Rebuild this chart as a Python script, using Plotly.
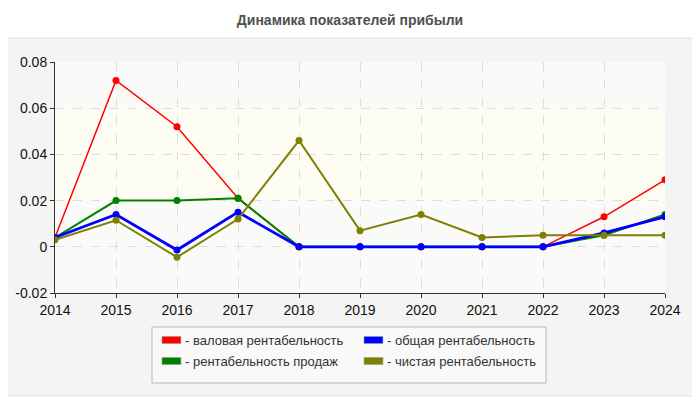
import plotly.graph_objects as go

# --- data ---
years = [2014, 2015, 2016, 2017, 2018, 2019, 2020, 2021, 2022, 2023, 2024]

gross_margin = [0.004, 0.072, 0.052, 0.021, 0.0, 0.0, 0.0, 0.0, 0.0, 0.013, 0.029]
sales_margin = [0.004, 0.020, 0.020, 0.021, 0.0, 0.0, 0.0, 0.0, 0.0, 0.005, 0.014]
total_margin = [0.004, 0.014, -0.0014, 0.015, 0.0, 0.0, 0.0, 0.0, 0.0, 0.006, 0.013]
net_margin = [0.003, 0.0115, -0.0045, 0.012, 0.046, 0.007, 0.014, 0.004, 0.005, 0.005, 0.005]

names = {
    "gross": "- валовая рентабельность",
    "sales": "- рентабельность продаж",
    "total": "- общая рентабельность",
    "net": "- чистая рентабельность",
}
colors = {"gross": "#ff0000", "sales": "#008000", "total": "#0000ff", "net": "#808000"}
y_ticks = [-0.02, 0, 0.02, 0.04, 0.06, 0.08]
y_tick_text = ["-0.02", "0", "0.02", "0.04", "0.06", "0.08"]

fig = go.Figure()

# draw order: red, green, blue, olive (olive on top)
series = [
    ("gross", gross_margin, 1.5),
    ("sales", sales_margin, 2),
    ("total", total_margin, 2.8),
    ("net", net_margin, 2),
]
for key, vals, w in series:
    fig.add_trace(go.Scatter(
        x=years, y=vals, mode="lines+markers", name=names[key],
        line=dict(color=colors[key], width=w),
        marker=dict(color=colors[key], size=7),
        showlegend=False, hoverinfo="x+y",
    ))

# outer panel and light band
fig.add_shape(type="rect", xref="paper", yref="paper",
              x0=-0.087, x1=1.0525, y0=-0.446, y1=1.104,
              fillcolor="#f4f4f4", line=dict(color="#e2e2e2", width=1),
              layer="below")
fig.add_shape(type="rect", xref="paper", yref="paper",
              x0=0, x1=1, y0=0, y1=1,
              fillcolor="#fafaf9", line=dict(width=0), layer="below")
fig.add_shape(type="rect", xref="paper", yref="y",
              x0=0, x1=1, y0=0.02, y1=0.06,
              fillcolor="#fdfdf4", line=dict(width=0), layer="below")

# hand-made legend box (two columns, row-major: red, blue / green, olive)
fig.add_shape(type="rect", xref="paper", yref="paper",
              x0=0.159, x1=0.805, y0=-0.1472, y1=-0.3896,
              fillcolor="#f9f9f9", line=dict(color="#b8b8b8", width=1))
legend_cells = [
    ("gross", 0.1754, -0.2035),
    ("total", 0.5066, -0.2035),
    ("sales", 0.1754, -0.2944),
    ("net", 0.5066, -0.2944),
]
for key, lx, ly in legend_cells:
    fig.add_shape(type="rect", xref="paper", yref="paper",
                  x0=lx, x1=lx + 0.031, y0=ly - 0.0152, y1=ly + 0.0152,
                  fillcolor=colors[key], line=dict(color="#999999", width=0.6))
    fig.add_annotation(text=names[key], xref="paper", yref="paper",
                       x=lx + 0.035, y=ly, xanchor="left", yanchor="middle",
                       showarrow=False, font=dict(size=13, color="#333"))

# figure is shifted by the page's 8px body margin, so it is 8px smaller here
fig.update_layout(
    width=692, height=392,
    margin=dict(l=47, r=35, t=54, b=107, autoexpand=False),
    paper_bgcolor="white",
    plot_bgcolor="rgba(0,0,0,0)",
    showlegend=False,
    font=dict(family="Liberation Sans, Arial, sans-serif", size=14, color="#222"),
    title=dict(text="<b>Динамика показателей прибыли</b>", x=0.4836, xref="paper",
               xanchor="center", y=0.969, yanchor="middle",
               font=dict(size=14, color="#505050")),
    xaxis=dict(range=[2014, 2024], tickvals=years, showgrid=True,
               gridcolor="#dddddd", griddash="dash", zeroline=False,
               showline=True, linecolor="#333", ticks="outside", ticklen=4,
               tickcolor="#333", tickfont=dict(size=14, color="#111")),
    yaxis=dict(range=[-0.02, 0.08], tickvals=y_ticks, ticktext=y_tick_text,
               showgrid=True, gridcolor="#dddddd", griddash="dash",
               zeroline=False, showline=True, linecolor="#333",
               ticks="outside", ticklen=4, tickcolor="#333",
               tickfont=dict(size=14, color="#111")),
)

fig.write_html("out.html")
